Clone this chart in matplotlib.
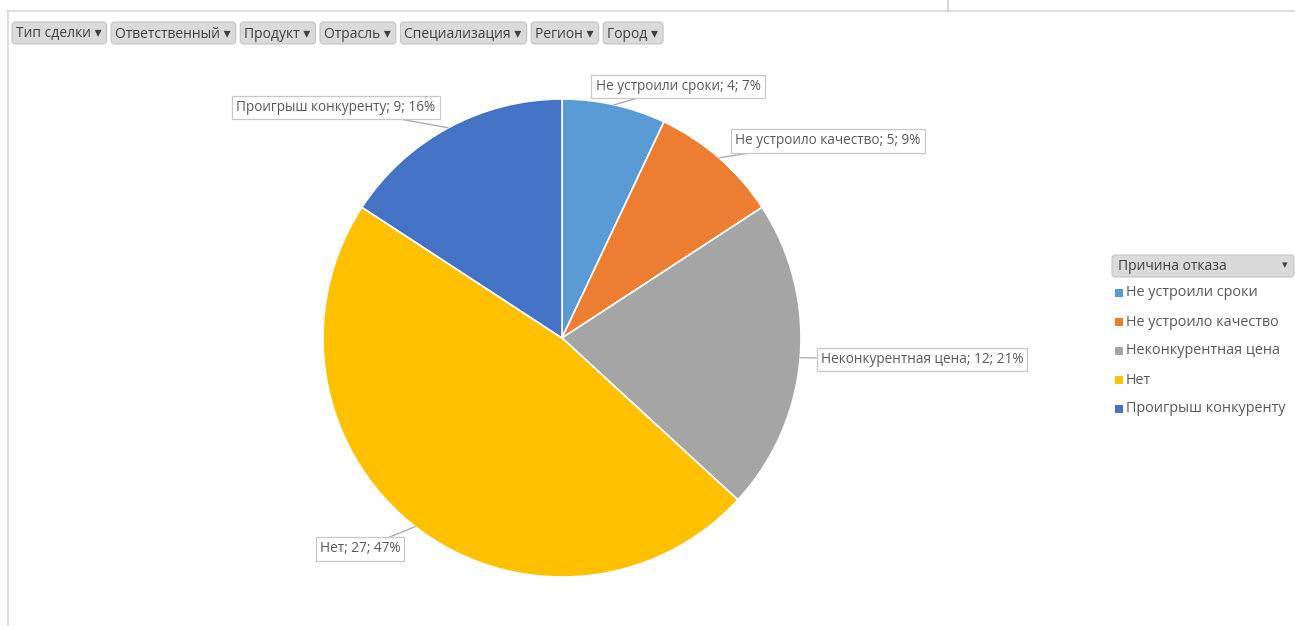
import numpy as np
import matplotlib
matplotlib.use("Agg")
import matplotlib.pyplot as plt
from matplotlib.patches import FancyBboxPatch, Rectangle

plt.rcParams['font.family'] = ['Open Sans', 'DejaVu Sans']

# data
reasons = ["Не устроили сроки", "Не устроило качество", "Неконкурентная цена",
           "Нет", "Проигрыш конкуренту"]
counts = [4, 5, 12, 27, 9]
colors = ["#5B9BD5", "#ED7D31", "#A5A5A5", "#FFC000", "#4472C4"]
filters = ["Тип сделки", "Ответственный", "Продукт", "Отрасль",
           "Специализация", "Регион", "Город"]
legend_title = "Причина отказа"

W, H = 1295, 626
fig = plt.figure(figsize=(W / 100, H / 100), dpi=100)
ax = fig.add_axes([0, 0, 1, 1])


def Y(y):
    return H - y


# sheet frame lines
ax.plot([7, W], [Y(11), Y(11)], color="#D9D9D9", lw=1.2)
ax.plot([8, 8], [Y(11), 0], color="#D9D9D9", lw=1.2)
ax.plot([948, 948], [Y(0), Y(11)], color="#D0D0D0", lw=1.2)

# pie
cx, cy, r = 562, Y(338), 239
wedges, _ = ax.pie(counts, colors=colors, startangle=90, counterclock=False,
                   center=(cx, cy), radius=r, frame=True,
                   wedgeprops=dict(edgecolor="white", linewidth=1.2))
ax.set_xlim(0, W)
ax.set_ylim(0, H)
ax.set_aspect('equal')
ax.axis('off')

# data labels
total = sum(counts)
label_pos = [(678, 86.5), (828, 141), (922, 359.5), (360, 549), (336, 107.5)]
for w, name, c, (lx, ly) in zip(wedges, reasons, counts, label_pos):
    mid = np.deg2rad((w.theta1 + w.theta2) / 2)
    px, py = cx + r * np.cos(mid), cy + r * np.sin(mid)
    pct = round(100 * c / total)
    ax.annotate(f"{name}; {c}; {pct}%", xy=(px, py), xytext=(lx, Y(ly)),
                textcoords='data', ha='center', va='center', fontsize=9.8,
                color="#595959",
                bbox=dict(boxstyle='square,pad=0.3', fc='white', ec='#C8C8C8', lw=0.9),
                arrowprops=dict(arrowstyle='-', color='#A6A6A6', lw=0.9,
                                shrinkA=0, shrinkB=0))

# filter buttons
fig.canvas.draw()
renderer = fig.canvas.get_renderer()
inv = ax.transData.inverted()
x = 16
for f in filters:
    t = ax.text(x, Y(34), f + " \u25be", fontsize=10, color="#404040",
                ha='left', va='center', zorder=5)
    bb = t.get_window_extent(renderer).transformed(inv)
    wdt = bb.x1 - bb.x0
    ax.add_patch(FancyBboxPatch((x - 4, Y(44)), wdt + 9, 22,
                                boxstyle='round,pad=0,rounding_size=4',
                                fc='#DADADA', ec='#C4C4C4', lw=0.8, zorder=4))
    x += wdt + 13.5

# legend
ax.add_patch(FancyBboxPatch((1112, Y(277)), 182, 22,
                            boxstyle='round,pad=0,rounding_size=4',
                            fc='#DADADA', ec='#C4C4C4', lw=0.8, zorder=4))
ax.text(1118, Y(266), legend_title, fontsize=10, color="#404040",
        ha='left', va='center', zorder=5)
ax.text(1285, Y(266), "\u25be", fontsize=8, color="#404040",
        ha='center', va='center', zorder=5)
for i, (name, col) in enumerate(zip(reasons, colors)):
    yy = 293 + i * 29
    ax.add_patch(Rectangle((1115, Y(yy) - 4), 8, 8, fc=col, ec='none'))
    ax.text(1126, Y(yy), name, fontsize=10.4, color="#595959",
            ha='left', va='center')

fig.savefig("out.png", dpi=100)
